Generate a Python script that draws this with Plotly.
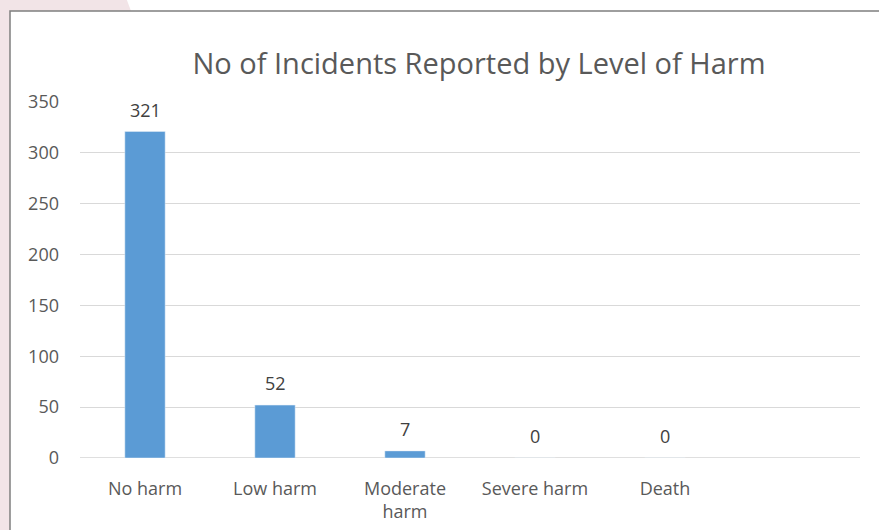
import plotly.graph_objects as go

categories = ["No harm", "Low harm", "Moderate<br>harm", "Severe harm", "Death"]
incidents = [321, 52, 7, 0, 0]
y_ticks = [0, 50, 100, 150, 200, 250, 300, 350]

W, H = 879, 530
L, R, T, B = 80, 19, 102, 72
pw, ph = W - L - R, H - T - B

def px(x):
    return (x - L) / pw

def py(y):
    return (H - B - y) / ph

xs = list(range(len(categories)))

fig = go.Figure(go.Bar(
    x=xs,
    y=incidents,
    width=0.31,
    marker_color="#5b9bd5",
))

for xi, v in zip(xs, incidents):
    fig.add_annotation(x=xi, y=v, text=str(v), showarrow=False,
                       xanchor="center", yanchor="middle", yshift=22,
                       font=dict(size=18, color="#404040", family="Open Sans"))

pink = "#f2e4e7"
fig.update_layout(
    width=W, height=H,
    margin=dict(l=L, r=R, t=T, b=B, autoexpand=False),
    paper_bgcolor="white",
    plot_bgcolor="white",
    showlegend=False,
    font=dict(family="Open Sans", color="#595959"),
    title=dict(text="No of Incidents Reported by Level of Harm",
               x=479 / W, xanchor="center", y=1 - 64 / H, yanchor="middle",
               font=dict(size=29, color="#595959", family="Open Sans")),
    xaxis=dict(range=[-0.5, 5.5], tickmode="array",
               tickvals=xs, ticktext=categories, automargin=False,
               showgrid=False, showline=False, zeroline=False, ticks="",
               ticklabelstandoff=18,
               tickfont=dict(size=18, color="#595959")),
    yaxis=dict(range=[0, 350], tickvals=y_ticks, showgrid=True, automargin=False,
               gridcolor="#d9d9d9", gridwidth=1, zeroline=False,
               showline=False, ticks="", ticklabelstandoff=20,
               tickfont=dict(size=18, color="#595959")),
    shapes=[
        dict(type="rect", xref="paper", yref="paper", layer="below",
             x0=px(-5), x1=px(10), y0=py(H + 5), y1=py(-5),
             fillcolor=pink, line_width=0),
        dict(type="path", xref="paper", yref="paper", layer="below",
             path=f"M {px(-5)},{py(-5)} L {px(125)},{py(-5)} L {px(131)},{py(11)} L {px(-5)},{py(11)} Z",
             fillcolor=pink, line_width=0),
        dict(type="rect", xref="paper", yref="paper", layer="below",
             x0=px(10), x1=px(W + 10), y0=py(H + 10), y1=py(11),
             fillcolor="white", line=dict(color="#7f7f7f", width=1.5)),
        dict(type="line", xref="paper", yref="y", layer="below",
             x0=0, x1=1, y0=0, y1=0, line=dict(color="#bfbfbf", width=1.2)),
    ],
)

fig.write_html("out.html")
